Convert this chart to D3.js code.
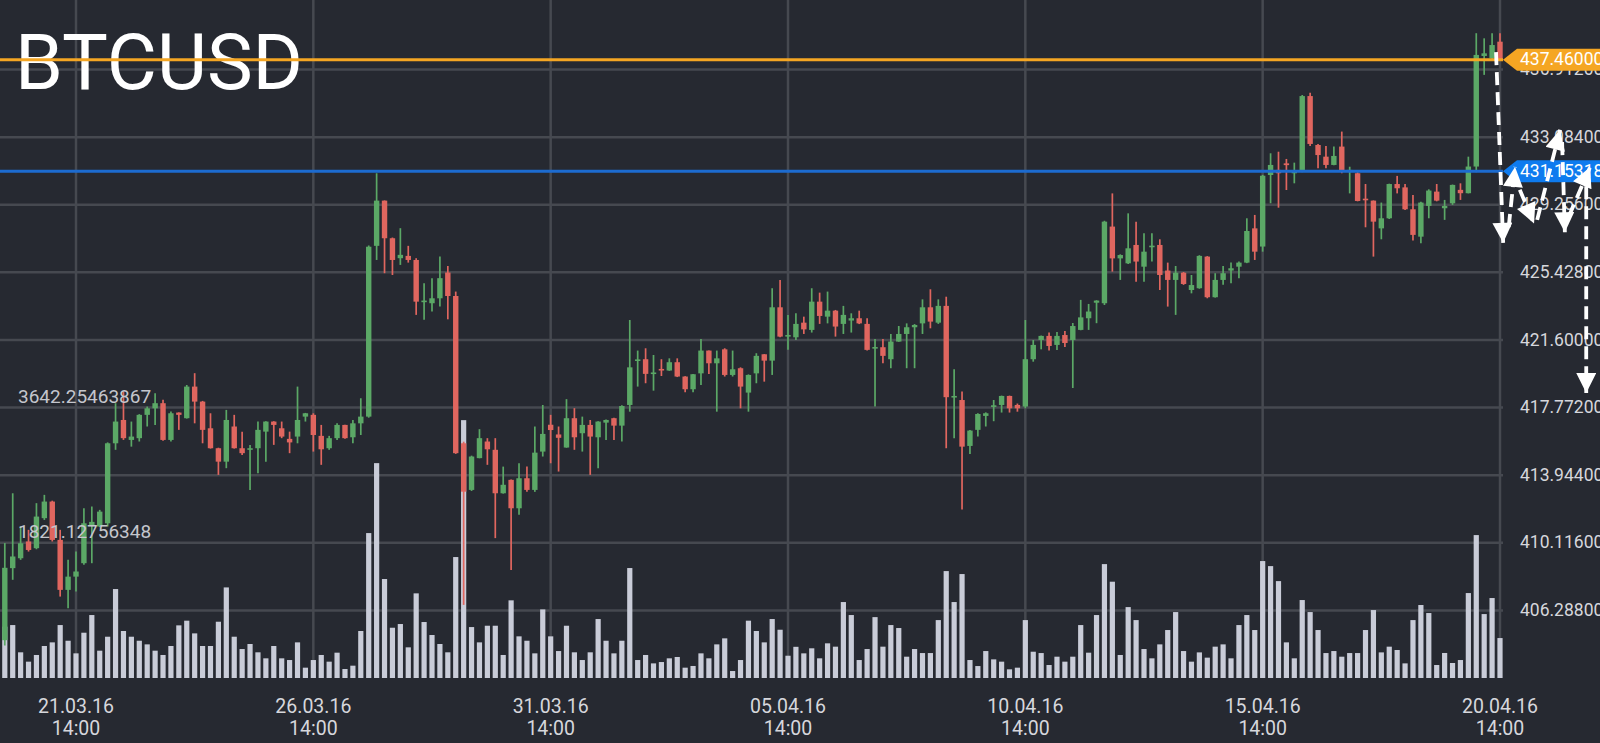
<!doctype html>
<html>
<head>
  <meta charset="utf-8">
  <title>BTCUSD</title>
  <script src="https://cdnjs.cloudflare.com/ajax/libs/d3/7.8.5/d3.min.js"></script>
  <style>
    html, body { margin: 0; padding: 0; background: #262931; overflow: hidden; }
    svg { display: block; font-family: Roboto, "Noto Sans", sans-serif; }
  </style>
</head>
<body>
<div id="chart"></div>
<script>
// 4 hour candles, the first one opens 20.03.16 02:00 (UTC)
const startTime = "2016-03-20T02:00:00Z";
const candleHours = 4;

const opens = [
  404.60, 408.68, 409.24, 410.19, 409.81, 411.51, 412.45, 410.28, 407.45, 408.20,
  408.96, 411.10, 411.04, 411.22, 415.75, 417.07, 415.94, 416.04, 417.36, 417.73,
  418.02, 415.94, 417.49, 417.17, 418.96, 418.11, 416.60, 415.47, 414.71, 416.70,
  415.47, 415.38, 415.47, 416.41, 416.98, 416.60, 416.00, 416.13, 417.26, 417.36,
  416.17, 415.47, 416.04, 416.79, 416.09, 416.88, 417.26, 426.93, 429.49, 427.36,
  426.23, 426.36, 426.13, 423.77, 423.68, 423.96, 425.42, 424.09, 415.75, 413.11,
  414.91, 415.85, 415.38, 412.92, 413.68, 412.07, 413.77, 413.11, 415.28, 416.80,
  416.25, 415.51, 417.17, 416.32, 416.79, 416.09, 416.92, 417.17, 416.75, 417.92,
  420.43, 420.51, 419.70, 419.96, 419.87, 420.34, 419.53, 418.81, 419.71, 421.00,
  420.28, 421.07, 419.62, 420.00, 418.62, 419.71, 420.79, 420.43, 423.45, 421.79,
  421.75, 422.58, 422.17, 423.77, 422.92, 423.26, 422.51, 422.70, 422.83, 422.51,
  421.13, 421.19, 420.51, 421.51, 421.94, 422.32, 422.54, 423.45, 422.58, 423.53,
  418.36, 418.20, 415.60, 416.51, 417.30, 417.83, 417.92, 418.43, 417.92, 417.83,
  420.51, 421.60, 421.83, 421.32, 421.88, 421.60, 422.17, 422.83, 423.71, 423.68,
  428.02, 426.22, 425.94, 426.98, 425.75, 426.89, 426.98, 425.53, 425.00, 425.41,
  424.43, 424.53, 426.32, 424.02, 425.00, 425.53, 425.75, 425.98, 427.92, 426.89,
  430.94, 431.23, 431.60, 431.04, 431.13, 435.41, 432.64, 431.98, 431.51, 432.55,
  431.13, 431.04, 429.60, 429.49, 427.92, 428.49, 430.43, 430.24, 429.00, 427.45,
  429.19, 430.00, 429.06, 429.34, 430.10, 429.91, 431.42, 437.68, 437.55, 438.49
];
const highs = [
  410.10, 412.92, 411.04, 410.85, 412.36, 412.83, 412.50, 410.85, 409.15, 409.62,
  412.07, 412.17, 411.98, 415.80, 418.02, 418.68, 416.98, 417.40, 417.83, 418.58,
  418.21, 417.55, 417.50, 419.05, 419.72, 418.15, 417.45, 415.50, 417.64, 417.36,
  416.41, 415.66, 416.98, 417.00, 417.00, 416.98, 416.41, 418.96, 417.47, 417.45,
  416.79, 416.17, 416.88, 416.80, 417.07, 418.30, 426.95, 431.04, 429.50, 427.40,
  427.93, 426.93, 426.23, 424.81, 425.10, 426.32, 425.79, 424.34, 415.84, 415.05,
  416.55, 416.04, 416.04, 414.43, 413.70, 414.62, 414.43, 416.70, 417.92, 417.36,
  416.70, 418.25, 417.74, 417.26, 417.07, 417.00, 417.10, 417.20, 417.90, 422.73,
  421.00, 421.13, 420.75, 420.51, 420.56, 420.56, 419.55, 419.68, 421.66, 421.00,
  421.00, 421.13, 421.00, 420.05, 419.65, 420.85, 420.80, 424.53, 425.00, 423.02,
  423.11, 422.92, 424.53, 424.28, 424.34, 423.30, 423.53, 423.11, 423.26, 422.83,
  421.66, 421.66, 421.94, 422.39, 422.54, 422.50, 423.90, 424.47, 423.90, 424.05,
  419.94, 418.68, 416.50, 417.45, 417.50, 418.20, 418.45, 418.45, 418.00, 422.73,
  421.60, 421.85, 422.02, 422.05, 422.11, 422.56, 423.87, 423.64, 423.85, 428.35,
  429.90, 426.45, 428.77, 428.30, 427.64, 427.64, 427.30, 425.98, 425.79, 425.45,
  425.28, 426.40, 426.35, 425.38, 425.79, 425.98, 426.04, 428.49, 428.68, 430.95,
  432.17, 432.26, 431.85, 431.64, 435.47, 435.60, 432.70, 432.58, 432.55, 433.40,
  431.41, 431.10, 430.43, 429.50, 429.38, 430.45, 430.89, 430.43, 429.81, 429.43,
  430.13, 430.43, 429.53, 430.40, 430.47, 431.98, 438.97, 438.68, 438.97, 438.97
];
const lows = [
  404.30, 408.02, 409.15, 409.62, 409.75, 411.41, 410.19, 407.07, 406.41, 407.36,
  408.87, 408.96, 411.00, 411.04, 415.38, 415.94, 415.56, 415.85, 416.70, 416.79,
  415.90, 415.85, 416.51, 417.15, 416.88, 415.75, 415.45, 413.96, 414.34, 415.45,
  415.09, 413.11, 414.05, 414.71, 415.66, 416.04, 415.19, 415.75, 416.98, 415.28,
  414.53, 415.38, 415.94, 416.00, 415.75, 416.22, 417.20, 426.13, 425.38, 425.28,
  425.85, 425.98, 423.02, 422.74, 423.21, 423.49, 422.77, 415.15, 406.60, 413.05,
  414.90, 414.53, 410.38, 412.90, 408.58, 411.70, 413.00, 413.00, 415.00, 414.62,
  414.15, 415.50, 415.38, 415.28, 413.96, 414.34, 415.94, 415.94, 415.85, 417.54,
  418.96, 419.15, 418.73, 419.56, 419.85, 419.50, 418.64, 418.64, 419.05, 419.68,
  417.54, 419.53, 419.53, 417.73, 417.54, 419.15, 419.24, 419.62, 421.75, 421.04,
  421.60, 421.94, 422.02, 422.51, 422.54, 421.79, 421.94, 422.02, 422.50, 421.00,
  417.83, 420.28, 420.00, 421.50, 420.00, 420.00, 421.94, 422.26, 422.51, 415.47,
  416.03, 412.00, 415.15, 416.13, 416.70, 417.00, 417.49, 417.49, 417.54, 417.73,
  420.37, 421.07, 421.00, 421.03, 421.20, 418.88, 422.15, 422.17, 422.55, 423.58,
  425.47, 425.00, 425.90, 424.90, 424.90, 426.04, 424.43, 423.49, 423.02, 424.72,
  424.24, 424.50, 423.96, 424.00, 424.72, 424.81, 425.09, 425.95, 426.13, 426.60,
  429.34, 429.09, 430.09, 430.47, 431.10, 432.58, 431.32, 431.32, 431.50, 431.04,
  429.90, 429.45, 427.98, 426.32, 427.30, 428.45, 429.90, 428.96, 427.23, 427.07,
  428.49, 429.45, 428.40, 429.25, 429.53, 429.90, 431.10, 436.61, 437.50, 437.40
];
const closes = [
  408.70, 409.34, 410.09, 409.71, 411.60, 412.45, 410.28, 407.45, 408.20, 408.49,
  411.22, 411.30, 411.88, 415.75, 416.98, 416.04, 416.13, 417.36, 417.73, 418.02,
  415.94, 417.45, 417.36, 418.96, 418.11, 416.51, 415.47, 414.71, 417.07, 415.47,
  415.19, 415.47, 416.51, 416.98, 416.79, 416.13, 415.80, 417.07, 417.45, 416.22,
  415.41, 416.04, 416.79, 416.04, 416.88, 417.26, 426.88, 429.49, 427.36, 426.13,
  426.42, 426.13, 423.77, 423.83, 423.96, 425.10, 424.09, 415.19, 413.01, 415.00,
  416.04, 415.41, 412.92, 413.40, 412.07, 413.77, 413.11, 415.22, 416.28, 416.50,
  416.06, 417.17, 416.09, 416.79, 416.13, 416.98, 417.07, 416.75, 417.86, 420.05,
  420.50, 419.68, 419.76, 419.90, 420.34, 419.53, 418.81, 419.66, 421.00, 420.28,
  420.56, 419.62, 419.94, 418.96, 419.62, 420.70, 420.43, 423.45, 421.79, 421.88,
  422.51, 422.20, 423.77, 422.96, 423.26, 422.36, 423.02, 422.83, 422.54, 421.04,
  421.20, 420.70, 421.51, 421.94, 422.32, 422.45, 423.45, 422.64, 423.53, 418.36,
  418.43, 415.56, 416.47, 417.41, 417.45, 417.90, 418.43, 417.73, 417.73, 420.51,
  421.32, 421.83, 421.26, 421.83, 421.43, 422.39, 422.88, 423.21, 423.83, 428.30,
  426.22, 426.41, 426.79, 426.04, 426.60, 426.94, 425.28, 425.00, 425.41, 424.77,
  424.71, 426.36, 424.02, 425.00, 425.38, 425.66, 425.98, 427.77, 426.60, 430.90,
  431.51, 431.04, 431.50, 431.13, 435.41, 432.70, 432.07, 431.51, 432.02, 431.13,
  431.23, 429.47, 429.55, 428.30, 428.49, 430.43, 430.19, 429.00, 427.55, 429.38,
  430.06, 429.49, 429.19, 430.38, 429.91, 431.42, 437.74, 437.83, 438.30, 437.46
];
const volumes = [
  691, 713, 346, 220, 310, 431, 480, 713, 502, 332,
  610, 848, 368, 556, 1198, 633, 556, 502, 453, 368,
  310, 431, 709, 772, 601, 431, 431, 758, 1220, 556,
  390, 458, 346, 265, 431, 265, 242, 480, 139, 242,
  310, 220, 341, 121, 166, 633, 1952, 2894, 1333, 677,
  727, 413, 1140, 754, 579, 458, 346, 1629, 3473, 686,
  480, 704, 704, 310, 1046, 561, 502, 332, 924, 561,
  363, 704, 346, 242, 346, 794, 502, 332, 502, 1481,
  242, 310, 197, 215, 265, 283, 139, 162, 332, 265,
  453, 534, 94, 242, 772, 633, 480, 794, 650, 300,
  420, 332, 400, 265, 467, 422, 1023, 848, 242, 390,
  820, 422, 713, 673, 287, 390, 336, 336, 780, 1440,
  1023, 1400, 242, 161, 363, 251, 220, 117, 139, 780,
  354, 336, 175, 287, 220, 287, 713, 341, 848, 1534,
  1297, 310, 955, 780, 390, 265, 453, 646, 888, 363,
  220, 345, 274, 422, 453, 265, 713, 848, 646, 1575,
  1507, 1305, 480, 265, 1050, 888, 646, 336, 363, 287,
  336, 336, 646, 915, 345, 422, 377, 197, 780, 983,
  875, 175, 337, 202, 242, 1144, 1925, 861, 1077, 538
];

const priceTicks = [406.288, 410.116, 413.944, 417.772, 421.6, 425.428, 429.256, 433.084, 436.912];
const volumeTicks = [1821.12756348, 3642.25463867];
const dateTicks = [
  "2016-03-21T14:00:00Z", "2016-03-26T14:00:00Z", "2016-03-31T14:00:00Z",
  "2016-04-05T14:00:00Z", "2016-04-10T14:00:00Z", "2016-04-15T14:00:00Z",
  "2016-04-20T14:00:00Z"
];
const symbol = "BTCUSD";
const lastPrice = 437.46;
const markPrice = 431.15318;

// hand drawn arrows: [candle index, price] from -> to
const arrows = [
  [[188.5, 437.9], [189.4, 427.1]],
  [[190.1, 428.0], [190.9, 431.4]],
  [[191.5, 430.1], [193.3, 428.2]],
  [[193.7, 428.4], [196.6, 433.5]],
  [[196.85, 432.8], [197.2, 427.7]],
  [[197.7, 428.6], [200.4, 431.4]],
  [[199.9, 430.3], [199.9, 418.6]]
];

const W = 1600, H = 743;
const plotBottom = 678, gridRight = 1503;
const bg = "#262931", gridCol = "#464950", textCol = "#d6d7dc";
const up = "#5ba866", down = "#e0665f", volCol = "#c9ccd8";

const t0 = new Date(startTime);
const timeAt = i => t0.getTime() + i * candleHours * 3600e3;
const data = opens.map((o, i) => ({
  t: new Date(timeAt(i)), open: o, high: highs[i], low: lows[i], close: closes[i], vol: volumes[i]
}));

const x = d3.scaleUtc()
  .domain([new Date(dateTicks[0]), new Date(dateTicks[dateTicks.length - 1])])
  .range([76, 1500]);
const y = d3.scaleLinear().domain([402.46, 440.85]).range([plotBottom, 0]);
const yVol = d3.scaleLinear().domain([0, volumeTicks[1]]).range([y(402.46), y(417.772)]);

const svg = d3.select("#chart").append("svg")
  .attr("width", W).attr("height", H);
svg.append("rect").attr("width", W).attr("height", H).attr("fill", bg);

// grid
svg.append("g").selectAll("line").data(priceTicks).join("line")
  .attr("x1", 0).attr("x2", gridRight)
  .attr("y1", d => y(d)).attr("y2", d => y(d))
  .attr("stroke", gridCol).attr("stroke-width", 2.5);
svg.append("g").selectAll("line").data(dateTicks).join("line")
  .attr("x1", d => x(new Date(d))).attr("x2", d => x(new Date(d)))
  .attr("y1", 0).attr("y2", plotBottom)
  .attr("stroke", gridCol).attr("stroke-width", 2.5);

// title
svg.append("text").attr("x", 15).attr("y", 89)
  .attr("font-size", 77).attr("fill", "#ffffff").text(symbol);

// volume
svg.append("g").selectAll("rect").data(data).join("rect")
  .attr("x", d => x(d.t) - 2.6).attr("width", 5.2)
  .attr("y", d => yVol(d.vol)).attr("height", d => yVol(0) - yVol(d.vol))
  .attr("fill", volCol);

// candles
const colorOf = d => d.close >= d.open ? up : down;
const candles = svg.append("g").selectAll("g").data(data).join("g");
candles.append("line")
  .attr("x1", d => x(d.t)).attr("x2", d => x(d.t))
  .attr("y1", d => y(d.high)).attr("y2", d => y(d.low))
  .attr("stroke", colorOf).attr("stroke-width", 1.7);
candles.append("rect")
  .attr("x", d => x(d.t) - 2.7).attr("width", 5.4)
  .attr("y", d => y(Math.max(d.open, d.close)))
  .attr("height", d => Math.max(1.6, Math.abs(y(d.open) - y(d.close))))
  .attr("fill", colorOf);

// price labels
svg.append("g").selectAll("text").data(priceTicks).join("text")
  .attr("x", 1520).attr("y", d => y(d) + 1)
  .attr("dominant-baseline", "middle")
  .attr("font-size", 17.5).attr("fill", textCol)
  .text(d => d3.format(".5f")(d));

// volume labels
svg.append("g").selectAll("text").data(volumeTicks).join("text")
  .attr("x", 18).attr("y", d => yVol(d) - 10)
  .attr("dominant-baseline", "middle")
  .attr("font-size", 19).attr("fill", "#c4c6cd")
  .text(d => d.toFixed(8));

// date labels
const fmtDay = d3.utcFormat("%d.%m.%y"), fmtHour = d3.utcFormat("%H:%M");
const dl = svg.append("g").selectAll("g").data(dateTicks).join("g")
  .attr("transform", d => `translate(${x(new Date(d))},0)`);
dl.append("text").attr("y", 708).attr("text-anchor", "middle").attr("dominant-baseline", "middle")
  .attr("font-size", 19.5).attr("fill", textCol).text(d => fmtDay(new Date(d)));
dl.append("text").attr("y", 730).attr("text-anchor", "middle").attr("dominant-baseline", "middle")
  .attr("font-size", 19.5).attr("fill", textCol).text(d => fmtHour(new Date(d)));

// price lines with badges
function priceLine(p, lineCol, badgeCol, label) {
  const yy = y(p);
  svg.append("line").attr("x1", 0).attr("x2", gridRight).attr("y1", yy).attr("y2", yy)
    .attr("stroke", lineCol).attr("stroke-width", 3);
  svg.append("path")
    .attr("d", `M${gridRight},${yy} L${gridRight + 14},${yy - 11} L${W},${yy - 11} L${W},${yy + 11} L${gridRight + 14},${yy + 11} Z`)
    .attr("fill", badgeCol);
  svg.append("text").attr("x", 1520).attr("y", yy + 1).attr("dominant-baseline", "middle")
    .attr("font-size", 17.5).attr("fill", "#ffffff").text(label);
}
priceLine(lastPrice, "#f5a623", "#f5a623", d3.format(".5f")(lastPrice));
priceLine(markPrice, "#1c6bd0", "#0e7bef", d3.format(".5f")(markPrice));

// arrows
svg.append("defs").append("marker")
  .attr("id", "head").attr("viewBox", "0 0 10 10")
  .attr("refX", 10).attr("refY", 5)
  .attr("markerUnits", "userSpaceOnUse")
  .attr("markerWidth", 22).attr("markerHeight", 20)
  .attr("orient", "auto")
  .append("path").attr("d", "M0,0 L10,5 L0,10 Z").attr("fill", "#ffffff");
svg.append("g").selectAll("line").data(arrows).join("line")
  .attr("x1", d => x(new Date(timeAt(d[0][0])))).attr("y1", d => y(d[0][1]))
  .attr("x2", d => x(new Date(timeAt(d[1][0])))).attr("y2", d => y(d[1][1]))
  .attr("stroke", "#ffffff").attr("stroke-width", 3.8)
  .attr("stroke-dasharray", "13 7")
  .attr("marker-end", "url(#head)");
</script>
</body>
</html>
